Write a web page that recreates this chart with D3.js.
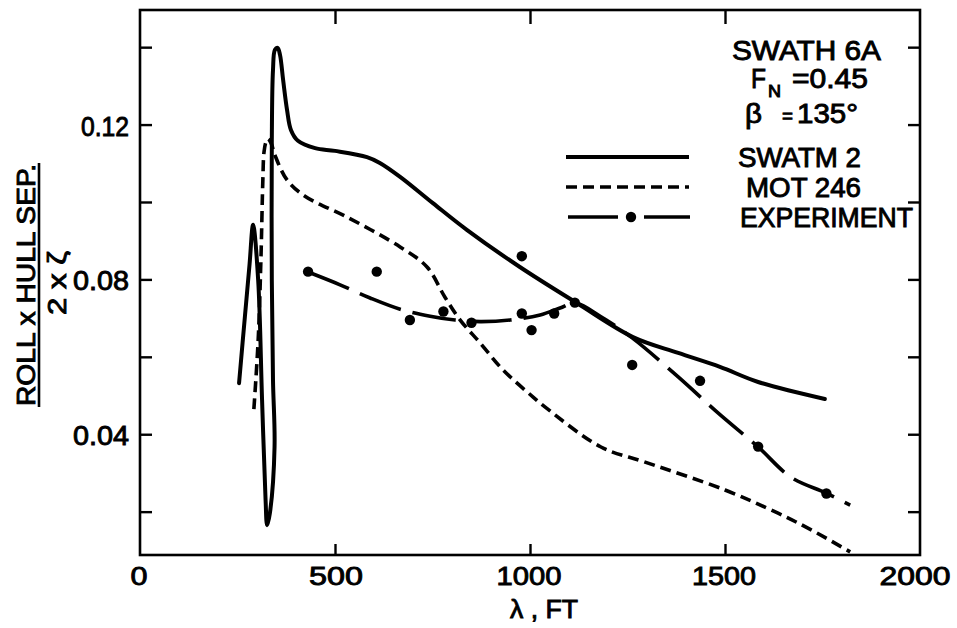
<!DOCTYPE html>
<html><head><meta charset="utf-8">
<script src="https://cdn.jsdelivr.net/npm/d3@7"></script>
<style>html,body{margin:0;padding:0;background:#fff;}svg{display:block;}</style>
</head><body>
<svg id="chart" width="957" height="628"></svg>
<script>
// ---- data ----
const swatmLambda = [254,263,272,281,290,303,313,322,326,333,345,341,338,338,341,346,353,359,367,377,387,405,449,500,582,615,667,751,838,974,1120,1264,1380,1487,1585,1756];
const swatmValue  = [0.0532,0.0636,0.0738,0.0840,0.0941,0.0798,0.0488,0.0230,0.0165,0.0196,0.0367,0.0540,0.0798,0.1160,0.1341,0.1393,0.1398,0.1380,0.1315,0.1238,0.1186,0.1158,0.1139,0.1132,0.1116,0.1101,0.1065,0.0997,0.0928,0.0832,0.0739,0.0651,0.0610,0.0574,0.0535,0.0491];

const motLambda = [292,303,310,315,318,323,328,336,346,377,423,531,667,736,782,821,872,931,1008,1039,1182,1295,1500,1636,1721,1821];
const motValue  = [0.0465,0.0643,0.0850,0.1057,0.1129,0.1155,0.1163,0.1152,0.1121,0.1057,0.1015,0.0961,0.0884,0.0832,0.0754,0.0695,0.0636,0.0566,0.0496,0.0470,0.0367,0.0328,0.0256,0.0196,0.0153,0.0096];

const expFitLambda = [431,513,590,667,744,808,872,949,1026,1077,1115,1180,1262,1380,1482,1585,1669,1759,1821];
const expFitValue  = [0.0819,0.0786,0.0752,0.0723,0.0705,0.0695,0.0691,0.0695,0.0708,0.0726,0.0739,0.0705,0.0649,0.0548,0.0455,0.0367,0.0289,0.0248,0.0217];

const expPointLambda = [431,607,692,778,850,979,979,1004,1062,1115,1262,1436,1585,1760];
const expPointValue  = [0.0820,0.0820,0.0695,0.0717,0.0688,0.0860,0.0712,0.0669,0.0712,0.0740,0.0579,0.0538,0.0368,0.0247];

const xTicks = [0,500,1000,1500,2000];
const xTickLabels = ["0","500","1000","1500","2000"];
const yTicks = [0.02,0.04,0.06,0.08,0.10,0.12,0.14];
const yTickLabels = [[0.04,"0.04"],[0.08,"0.08"],[0.12,"0.12"]];

const seriesNames = ["SWATM 2","MOT 246","EXPERIMENT"];

// ---- drawing ----
const svg = d3.select("#chart");
const L = 140, R = 920, T = 10, B = 555;
const x = d3.scaleLinear().domain([0,2000]).range([L,R]);
const y = d3.scaleLinear().domain([0.0088,0.1496]).range([B,T]);
const FONT = "'Liberation Sans', Arial, sans-serif";
const INK = "#000";

function txt(g, px, py, s, len, size, anchor){
  const t = g.append("text").attr("x",px).attr("y",py).text(s)
    .attr("font-family",FONT).attr("font-size",size).attr("fill",INK)
    .attr("stroke",INK).attr("stroke-width",0.9)
    .attr("text-anchor",anchor||"start");
  if(len){ t.attr("textLength",len).attr("lengthAdjust","spacingAndGlyphs"); }
  return t;
}

// frame
svg.append("rect").attr("x",L).attr("y",T).attr("width",R-L).attr("height",B-T)
  .attr("fill","none").attr("stroke",INK).attr("stroke-width",2.6);

// inward ticks on all sides using axes
const tl = 12;
const tidy = g=>{g.select(".domain").remove(); g.selectAll("line").attr("stroke-width",2.4);};
svg.append("g").attr("transform",`translate(${L},0)`)
  .call(d3.axisRight(y).tickValues(yTicks).tickSize(tl).tickFormat("")).call(tidy);
svg.append("g").attr("transform",`translate(${R},0)`)
  .call(d3.axisLeft(y).tickValues(yTicks).tickSize(tl).tickFormat("")).call(tidy);
svg.append("g").attr("transform",`translate(0,${B})`)
  .call(d3.axisTop(x).tickValues(xTicks.slice(1,-1)).tickSize(11).tickFormat("")).call(tidy);
svg.append("g").attr("transform",`translate(0,${T})`)
  .call(d3.axisBottom(x).tickValues(xTicks.slice(1,-1)).tickSize(14).tickFormat("")).call(tidy);

// tick labels
const lab = svg.append("g");
const xLabW = [17,54,65,64,71];
xTicks.forEach((v,i)=>{
  txt(lab, x(v) + (i===4?-5:(i===1?1:-1)), 585, xTickLabels[i], xLabW[i], 26, "middle");
});
yTickLabels.forEach(([v,s])=>{
  txt(lab, 129, y(v)+11, s, v===0.12?48:56, 27, "end");
});

// axis titles
txt(svg, 544, 618, "λ , FT", 68, 26, "middle");
const yl = svg.append("g").attr("transform","translate(35,285) rotate(-90)");
txt(yl, 0, 0, "ROLL x HULL SEP.", 242, 26, "middle");
svg.append("line").attr("x1",39).attr("x2",39).attr("y1",163).attr("y2",407)
  .attr("stroke",INK).attr("stroke-width",2.6);
const yl2 = svg.append("g").attr("transform","translate(66,283) rotate(-90)");
txt(yl2, 0, 0, "2 x ζ", 64, 26, "middle");

// curves
const line = d3.line().x(d=>x(d[0])).y(d=>y(d[1])).curve(d3.curveCatmullRom.alpha(0.5));
const plot = svg.append("g");
plot.append("path").datum(swatmLambda.map((l,i)=>[l,swatmValue[i]]))
  .attr("d",line).attr("fill","none").attr("stroke",INK).attr("stroke-width",4)
  .attr("stroke-linejoin","round").attr("stroke-linecap","round");
plot.append("path").datum(motLambda.map((l,i)=>[l,motValue[i]]))
  .attr("d",line).attr("fill","none").attr("stroke",INK).attr("stroke-width",3.6)
  .attr("stroke-dasharray","11,6");
plot.append("path").datum(expFitLambda.map((l,i)=>[l,expFitValue[i]]))
  .attr("d",line).attr("fill","none").attr("stroke",INK).attr("stroke-width",3.6)
  .attr("stroke-dasharray","44,12");
plot.selectAll("circle.pt").data(expPointLambda.map((l,i)=>[l,expPointValue[i]]))
  .enter().append("circle").attr("class","pt")
  .attr("cx",d=>x(d[0])).attr("cy",d=>y(d[1])).attr("r",5.2).attr("fill",INK);

// header text
const hd = svg.append("g");
txt(hd, 732, 60, "SWATH 6A", 149, 27);
txt(hd, 751, 88, "F", 15, 27);
txt(hd, 768, 97, "N", 13, 16);
txt(hd, 792, 88, "=0.45", 76, 27);
txt(hd, 745, 123, "β", 17, 27);
txt(hd, 782, 123, "=", 11, 20);
txt(hd, 797, 123, "135°", 61, 27);

// legend
const lg = svg.append("g");
const legY = [157,187,217];
const legX1 = 566, legX2 = 689;
lg.append("line").attr("x1",legX1).attr("x2",legX2).attr("y1",legY[0]).attr("y2",legY[0])
  .attr("stroke",INK).attr("stroke-width",4);
lg.append("line").attr("x1",legX1).attr("x2",legX2).attr("y1",legY[1]).attr("y2",legY[1])
  .attr("stroke",INK).attr("stroke-width",3.6).attr("stroke-dasharray","11,6");
lg.append("line").attr("x1",legX1+2).attr("x2",legX1+52).attr("y1",legY[2]).attr("y2",legY[2])
  .attr("stroke",INK).attr("stroke-width",3.6);
lg.append("line").attr("x1",legX1+78).attr("x2",legX2+1).attr("y1",legY[2]).attr("y2",legY[2])
  .attr("stroke",INK).attr("stroke-width",3.6);
lg.append("circle").attr("cx",631).attr("cy",legY[2]).attr("r",5.2).attr("fill",INK);
const legTextX = [738,746,740];
const legTextW = [123,115,173];
seriesNames.forEach((s,i)=>{
  txt(lg, legTextX[i], legY[i]+10, s, legTextW[i], 27);
});
</script>
</body></html>
